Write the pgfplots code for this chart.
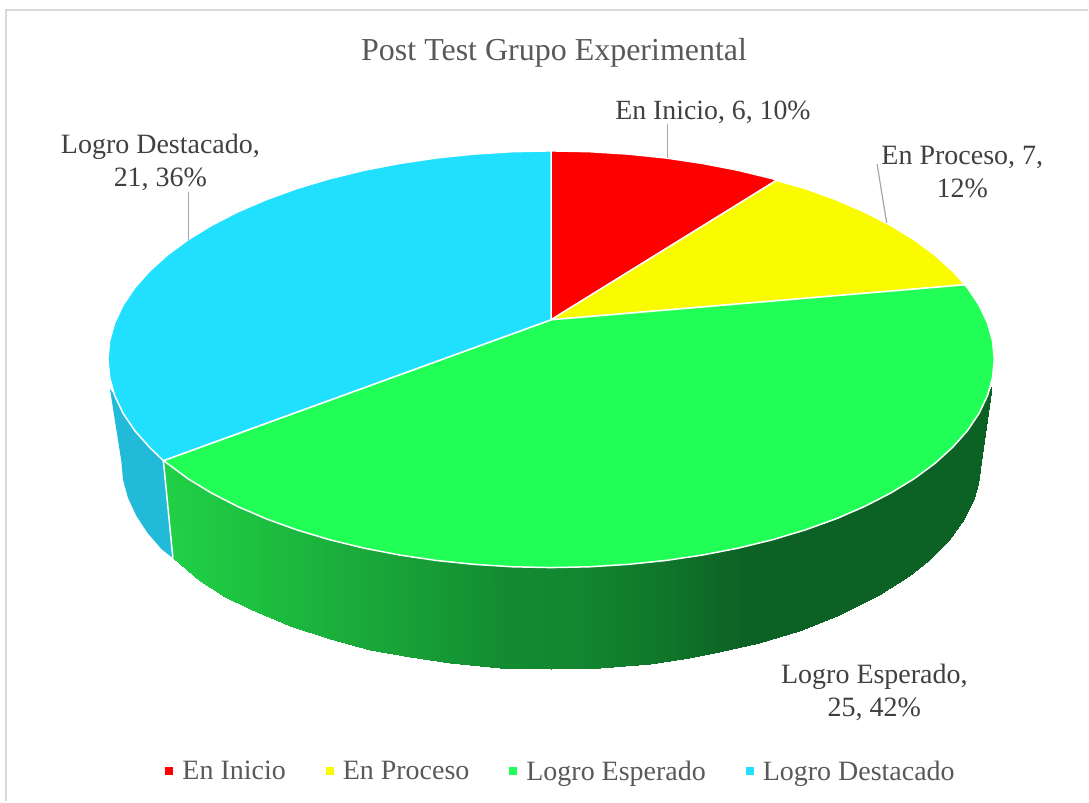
\documentclass[border=0pt]{standalone}
\usepackage{fontspec}
\setmainfont{Liberation Serif}
\usepackage{pgfplots}
\pgfplotsset{compat=1.18}
\definecolor{cinicio}{RGB}{255,0,0}
\definecolor{cproceso}{RGB}{251,251,0}
\definecolor{cesperado}{RGB}{33,255,87}
\definecolor{cdestacado}{RGB}{33,223,255}
\definecolor{csidecyan}{RGB}{33,187,217}
\definecolor{ttl}{RGB}{89,89,89}
\definecolor{lbl}{RGB}{64,64,64}
\definecolor{leader}{RGB}{166,166,166}
\definecolor{frame}{RGB}{217,217,217}
\begin{document}
\begin{tikzpicture}
\begin{axis}[
    hide axis,
    scale only axis,
    width=1089pt,
    height=802pt,
    xmin=0, xmax=1089,
    ymin=0, ymax=802,
    y dir=reverse,
    clip=false,
    colormap={sidegreen}{
        rgb255=(32,208,70) rgb255=(29,192,64) rgb255=(27,174,60)
        rgb255=(23,158,55) rgb255=(19,140,49) rgb255=(18,134,48)
        rgb255=(16,118,42) rgb255=(12,97,36) rgb255=(12,97,36)
        rgb255=(12,97,36) rgb255=(12,97,36)},
    point meta min=173, point meta max=993,
    legend columns=4,
    legend cell align=left,
    legend image code/.code={\fill[#1,draw=none] (0pt,-4pt) rectangle (8pt,4pt);},
    legend style={
        at={(axis cs:561.5,772)}, anchor=center, draw=none, fill=none,
        font=\fontsize{28}{33}\selectfont\color{ttl},
        /tikz/every odd column/.style={column sep=7pt},
        /tikz/every even column/.style={column sep=38pt},
    },
]
\path (axis cs:0,0) rectangle (axis cs:1089,802);
\draw[frame, line width=1.6pt] (axis cs:6,802) -- (axis cs:6,10) -- (axis cs:1089,10);

% side walls
\addplot[fill=csidecyan, draw=none, forget plot] coordinates {
    (163.5,461) (173,558.5) (161.8,549.7) (147.4,533) (136.2,515.7) (128,498)
    (123.1,480.1) (121.5,462) (110,389) (114.7,395.7) (123.1,413.5) (134.7,430.8) (149.6,447.6)
} -- cycle;
\addplot[surf, shader=interp, mesh/cols=2, point meta=\thisrow{x}, forget plot] table {
x y
163.5 461
173 558.5
200 486.6
200 581.5
225 500.6
225 597.0
250 512.4
250 609.9
290 527.9
290 626.7
330 540.1
330 639.9
370 549.7
370 650.1
410 557.1
410 657.9
450 562.5
450 663.6
500 566.6
500 668.0
551.5 568
551.5 669.5
600 566.7
600 668.2
650 562.8
650 664.0
690 557.6
690 658.4
720 552.4
720 652.9
760 543.5
760 643.5
800 532.2
800 631.3
840 517.9
840 615.9
880 499.6
880 595.9
910 482.2
910 576.6
930 468.2
930 560.5
950 451.0
950 540.0
965 434.9
965 518.9
975 421.4
975 497.9
979 415.0
979 484.3
982 409.6
982 462
987 398.9
987 427
992.5 385.5
992.5 385.5
};
\addplot[white, line width=1.5pt, forget plot] coordinates {(163.5,461) (173,558.5)};

% top faces
\addplot[fill=cinicio, draw=white, line width=1.5pt, line join=round] coordinates {
    (551.5,151) (590.2,151.8) (628.5,154.2) (666.3,158.1) (703.2,163.6) (738.9,170.5)
    (773.25,178.9) (777,180.5) (551.5,320)
} -- cycle;
\addlegendentry{En Inicio}
\addplot[fill=cproceso, draw=white, line width=1.5pt, line join=round] coordinates {
    (777,180.5) (805.9,188.7) (836.6,199.8) (865.1,212.1) (891.2,225.5) (914.8,239.9)
    (935.6,255.25) (953.4,271.4) (965.5,285) (551.5,320)
} -- cycle;
\addlegendentry{En Proceso}
\addplot[fill=cesperado, draw=white, line width=1.5pt, line join=round] coordinates {
    (965.5,285) (968.3,288.2) (979.9,305.5) (988.3,323.3) (993.3,341.3) (995,359.5)
    (993.3,377.7) (988.3,395.7) (979.9,413.5) (968.3,430.8) (953.4,447.6) (935.6,463.75)
    (914.8,479.1) (891.2,493.5) (865.1,506.9) (836.6,519.2) (805.9,530.3) (773.25,540.1)
    (738.9,548.5) (703.2,555.4) (666.3,560.9) (628.5,564.8) (590.2,567.2) (551.5,568)
    (512.8,567.2) (474.5,564.8) (436.7,560.9) (399.8,555.4) (364.1,548.5) (329.75,540.1)
    (297.1,530.3) (266.4,519.2) (237.9,506.9) (211.8,493.5) (188.2,479.1) (167.4,463.75)
    (163.5,461) (551.5,320)
} -- cycle;
\addlegendentry{Logro Esperado}
\addplot[fill=cdestacado, draw=white, line width=1.5pt, line join=round] coordinates {
    (163.5,461) (149.6,447.6) (134.7,430.8) (123.1,413.5) (114.7,395.7) (109.7,377.7)
    (108,359.5) (109.7,341.3) (114.7,323.3) (123.1,305.5) (134.7,288.2) (149.6,271.4)
    (167.4,255.25) (188.2,239.9) (211.8,225.5) (237.9,212.1) (266.4,199.8) (297.1,188.7)
    (329.75,178.9) (364.1,170.5) (399.8,163.6) (436.7,158.1) (474.5,154.2) (512.8,151.8)
    (551.5,151) (551.5,320)
} -- cycle;
\addlegendentry{Logro Destacado}

% leader lines
\addplot[leader, line width=1.2pt, forget plot] coordinates {(667.7,124) (667.7,158)};
\addplot[leader, line width=1.2pt, forget plot] coordinates {(877.7,164) (887.3,223)};
\addplot[leader, line width=1.2pt, forget plot] coordinates {(188.3,192) (188.3,240)};

\node[text=ttl, font=\fontsize{32}{38}\selectfont] at (axis cs:554.5,53) {Post Test Grupo Experimental};
\node[text=lbl, align=center, font=\fontsize{27.8}{33}\selectfont] at (axis cs:713.5,112) {En Inicio, 6, 10\%};
\node[text=lbl, align=center, font=\fontsize{28}{33}\selectfont] at (axis cs:963,172.5) {En Proceso, 7,\\12\%};
\node[text=lbl, align=center, font=\fontsize{28}{33}\selectfont] at (axis cs:160.5,162.5) {Logro Destacado,\\21, 36\%};
\node[text=lbl, align=center, font=\fontsize{28}{33}\selectfont] at (axis cs:875,693) {Logro Esperado,\\25, 42\%};
\end{axis}
\end{tikzpicture}
\end{document}
